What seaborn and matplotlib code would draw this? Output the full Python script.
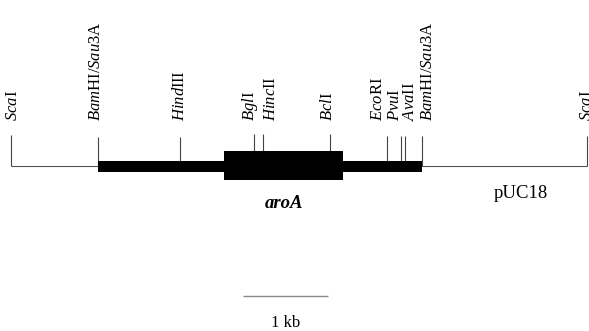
import matplotlib
matplotlib.use("Agg")
import matplotlib.pyplot as plt
import seaborn as sns
from matplotlib.patches import Rectangle

sns.set_theme(style="white")
plt.rcParams["font.family"] = ["Liberation Serif", "DejaVu Serif"]
plt.rcParams["text.color"] = "black"
plt.rcParams["mathtext.fontset"] = "custom"
plt.rcParams["mathtext.rm"] = "Liberation Serif"
plt.rcParams["mathtext.it"] = "Liberation Serif:italic"

# restriction sites (kb from the left ScaI site)
site_names = [r"$\mathit{Sca}\mathrm{I}$",
              r"$\mathit{Bam}\mathrm{HI/}\mathit{Sau}\mathrm{3A}$",
              r"$\mathit{Hind}\mathrm{III}$",
              r"$\mathit{Bgl}\mathrm{I}$",
              r"$\mathit{Hinc}\mathrm{II}$",
              r"$\mathit{Bcl}\mathrm{I}$",
              r"$\mathit{Eco}\mathrm{RI}$",
              r"$\mathit{Pvu}\mathrm{I}$",
              r"$\mathit{Ava}\mathrm{II}$",
              r"$\mathit{Bam}\mathrm{HI/}\mathit{Sau}\mathrm{3A}$",
              r"$\mathit{Sca}\mathrm{I}$"]
site_kb = [0.0, 1.02, 1.99, 2.86, 2.96, 3.75, 4.42, 4.59, 4.64, 4.84, 6.78]

insert_kb = (1.02, 4.84)     # cloned fragment
aroA_kb = (2.51, 3.91)       # aroA coding region
scale_kb = 1.0

# layout (pixel units; label nudges to avoid overlap)
px_per_kb = 85.0
x0_px = 11.0
label_nudge = [2, -2, 0, -4, 8, -2, -9, -6, 5, 6, 0]
tick_top = [135, 137, 137, 134, 134, 134, 136, 136, 136, 136, 136]
line_y = 166

fig = plt.figure(figsize=(5.89, 3.31), dpi=100)
ax = fig.add_axes([0, 0, 1, 1])
ax.set_xlim(-x0_px / px_per_kb, (589 - x0_px) / px_per_kb)
ax.set_ylim(331, 0)
ax.axis("off")

# vector backbone
ax.hlines(line_y, site_kb[0], site_kb[-1], color="#555555", lw=0.8, zorder=1)
# site ticks
ax.vlines(site_kb, tick_top, line_y, color="#444444", lw=0.8, zorder=1)
# insert
ax.add_patch(Rectangle((insert_kb[0], 161), insert_kb[1] - insert_kb[0], 11,
                       color="black", lw=0, zorder=2))
ax.add_patch(Rectangle((aroA_kb[0], 151), aroA_kb[1] - aroA_kb[0], 29,
                       color="black", lw=0, zorder=3))

for name, kb, dx in zip(site_names, site_kb, label_nudge):
    ax.text(kb + dx / px_per_kb, 121, name, rotation=90, ha="center",
            va="bottom", fontsize=12, color="black")

ax.text(sum(aroA_kb) / 2, 203, "aroA", fontsize=13.5, fontstyle="italic",
        fontweight="bold", ha="center", va="center", color="black")
ax.text(6.0, 193, "pUC18", fontsize=13.5, ha="center", va="center",
        color="black")

# scale bar
sx = 2.73
ax.hlines(296, sx, sx + scale_kb, color="#888888", lw=1.0)
ax.text(sx + scale_kb / 2, 323, "1 kb", fontsize=12, ha="center",
        va="center", color="black")

fig.savefig("out.png", dpi=100)
